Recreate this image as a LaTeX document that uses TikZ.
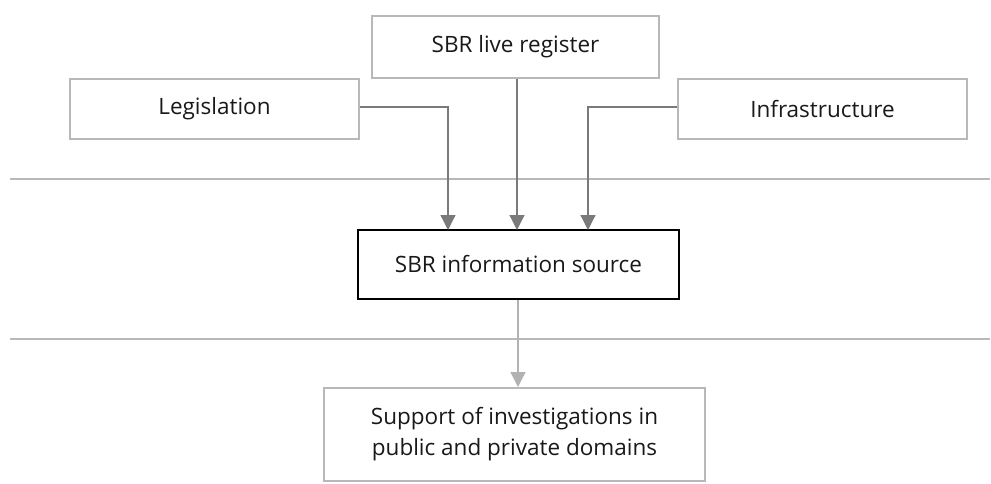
\documentclass[tikz,border=0pt]{standalone}
\usepackage{fontspec}
\setmainfont{Open Sans}
\usetikzlibrary{arrows.meta}
\begin{document}
\begin{tikzpicture}[x=1pt,y=-1pt,
  box/.style={draw=black!28, line width=2pt, fill=white, font=\fontsize{22.5}{31}\selectfont, text=black!90, align=center, inner sep=0pt},
  mainbox/.style={box, draw=black, line width=2.2pt},
  link/.style={draw=black!52, line width=1.3pt, -{Triangle[width=15pt,length=15pt]}},
  lightlink/.style={draw=black!30, line width=1.3pt, -{Triangle[width=15pt,length=15pt]}},
  rule/.style={draw=black!28, line width=1.2pt}]
\useasboundingbox (0,0) rectangle (991,484);
% layer separators
\draw[rule] (10,179) -- (990,179);
\draw[rule] (10,339) -- (990,339);
% boxes
\node[box, minimum width=287pt, minimum height=62pt] (live) at (515.5,47) {SBR live register};
\node[box, minimum width=289pt, minimum height=60pt] (leg) at (214.5,109) {Legislation};
\node[box, minimum width=289pt, minimum height=60pt] (infra) at (822.5,109) {Infrastructure};
\node[mainbox, minimum width=321pt, minimum height=69pt] (src) at (518.5,264.5) {SBR information source};
\node[box, minimum width=381pt, minimum height=93pt] (sup) at (514.5,434.5) {Support of investigations in\\public and private domains};
% connectors
\coordinate (srcL) at (448,230);
\coordinate (srcM) at (517,230);
\coordinate (srcR) at (588,230);
\draw[link] (leg.east |- 0,107) -| (srcL);
\draw[link] (live.south -| srcM) -- (srcM);
\draw[link] (infra.west |- 0,107) -| (srcR);
\draw[lightlink] (src.south -| 518,0) -- (sup.north -| 518,0);
\end{tikzpicture}
\end{document}
